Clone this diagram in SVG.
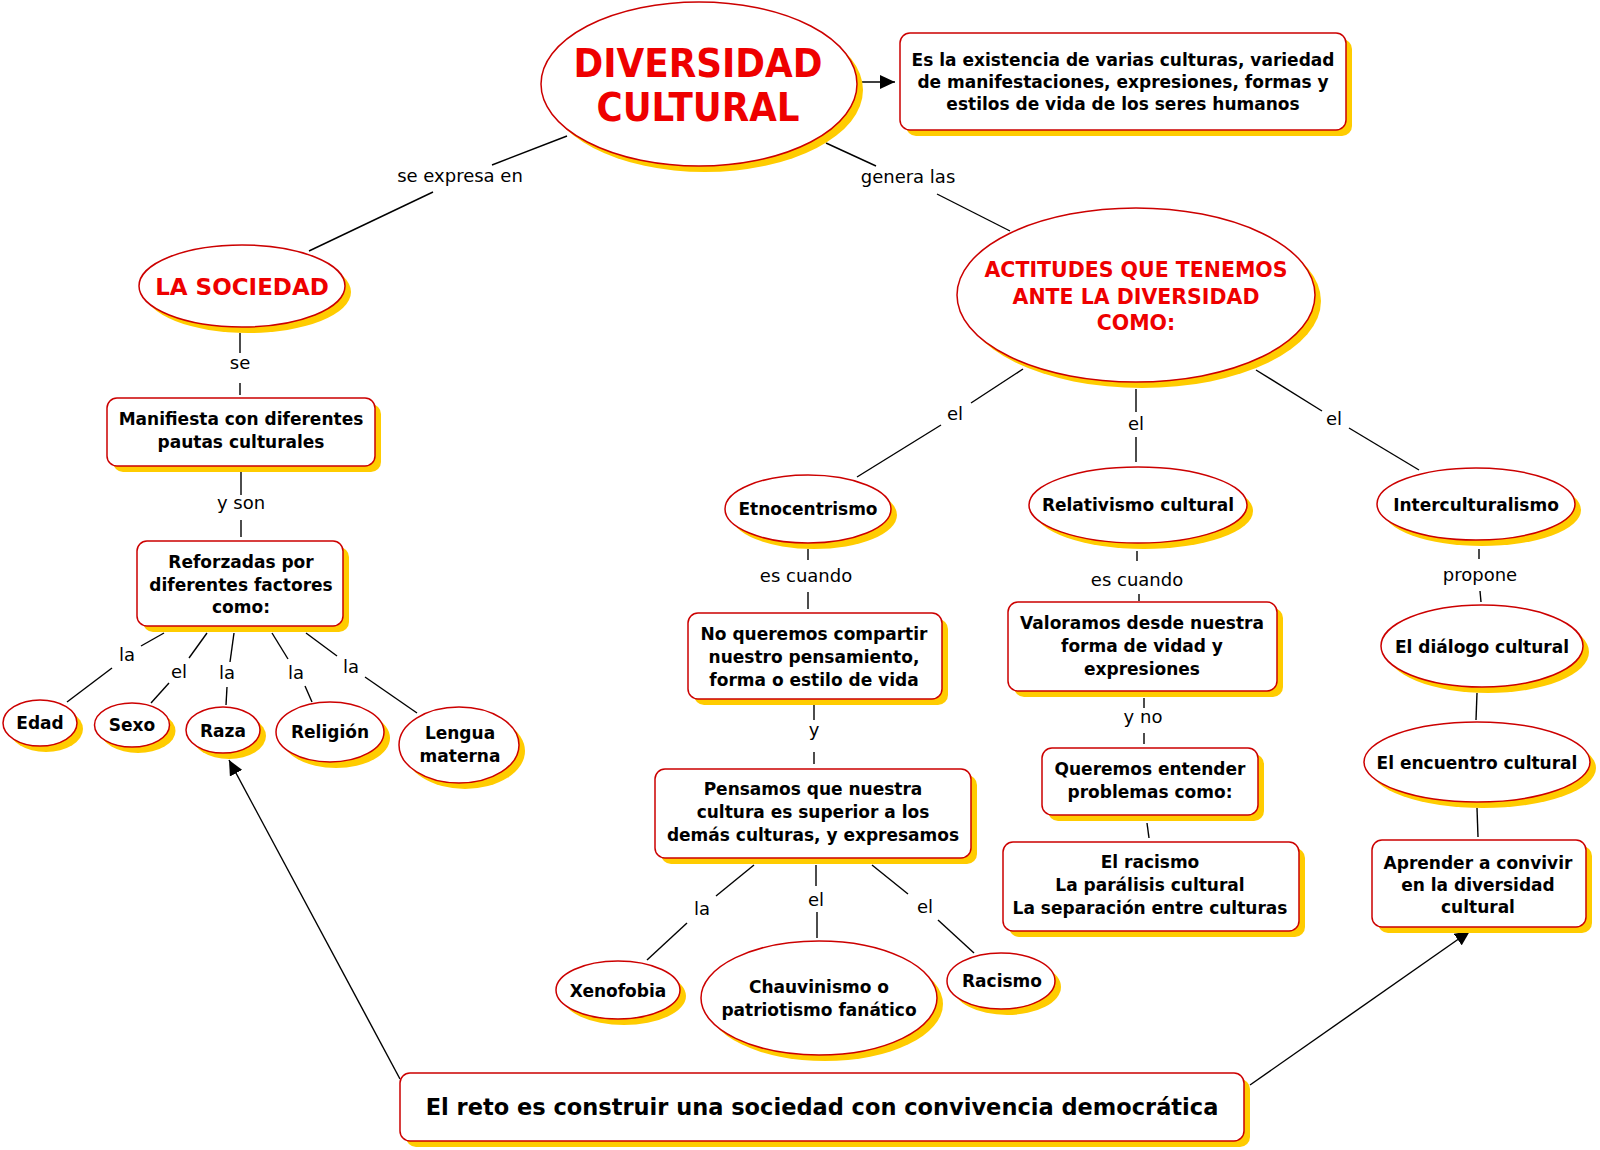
<svg xmlns="http://www.w3.org/2000/svg" width="1600" height="1150" viewBox="0 0 1600 1150">
<style>
.sh{fill:#FFCC00}
.nd{fill:#fff;stroke:#CC0000;stroke-width:1.5}
.t{font-family:"DejaVu Sans",Verdana,sans-serif;font-weight:bold;font-size:17px;text-anchor:middle;fill:#000}
.r{fill:#EE0000}
.big{font-size:39px}
.mid{font-size:23px}
.act{font-size:20.5px}
.reto{font-size:22.5px}
.lb{font-family:"DejaVu Sans",Verdana,sans-serif;font-size:18px;text-anchor:middle;fill:#000}
.cn line{stroke:#000;stroke-width:1.4}
</style>
<defs>
<marker id="ah" markerUnits="userSpaceOnUse" markerWidth="16" markerHeight="14" refX="15" refY="7" orient="auto">
<path d="M0,0 L15,7 L0,14 z" fill="#000"/>
</marker>
</defs>
<rect width="1600" height="1150" fill="#fff"/>

<g id="connectors" class="cn">
<line x1="567" y1="136" x2="492" y2="165"/><line x1="433" y1="192" x2="309" y2="251"/>
<line x1="826" y1="143" x2="876" y2="166"/><line x1="937" y1="194" x2="1010" y2="231"/>
<line x1="240" y1="333" x2="240" y2="353"/><line x1="240" y1="383" x2="240" y2="395"/>
<line x1="241" y1="472" x2="241" y2="495"/><line x1="241" y1="520" x2="241" y2="537"/>
<line x1="164" y1="633" x2="141" y2="646"/><line x1="112" y1="668" x2="67" y2="702"/>
<line x1="207" y1="633" x2="189" y2="658"/><line x1="169" y1="683" x2="151" y2="703"/>
<line x1="234" y1="633" x2="230" y2="662"/><line x1="227" y1="687" x2="226" y2="705"/>
<line x1="272" y1="633" x2="288" y2="659"/><line x1="305" y1="686" x2="312" y2="702"/>
<line x1="306" y1="633" x2="337" y2="656"/><line x1="365" y1="677" x2="417" y2="713"/>
<line x1="1023" y1="369" x2="971" y2="403"/><line x1="941" y1="425" x2="857" y2="477"/>
<line x1="1136" y1="389" x2="1136" y2="412"/><line x1="1136" y1="437" x2="1136" y2="462"/>
<line x1="1256" y1="370" x2="1322" y2="411"/><line x1="1349" y1="428" x2="1419" y2="470"/>
<line x1="808" y1="549" x2="808" y2="560"/><line x1="808" y1="592" x2="808" y2="609"/>
<line x1="814" y1="705" x2="814" y2="720"/><line x1="814" y1="752" x2="814" y2="764"/>
<line x1="754" y1="865" x2="716" y2="896"/><line x1="687" y1="923" x2="647" y2="960"/>
<line x1="816" y1="865" x2="816" y2="886"/><line x1="817" y1="912" x2="817" y2="938"/>
<line x1="872" y1="865" x2="908" y2="894"/><line x1="938" y1="920" x2="974" y2="953"/>
<line x1="1137" y1="551" x2="1137" y2="561"/><line x1="1139" y1="594" x2="1139" y2="601"/>
<line x1="1144" y1="698" x2="1144" y2="708"/><line x1="1144" y1="733" x2="1144" y2="744"/>
<line x1="1147" y1="823" x2="1149" y2="838"/>
<line x1="1479" y1="549" x2="1479" y2="559"/><line x1="1480" y1="591" x2="1481" y2="602"/>
<line x1="1477" y1="693" x2="1476" y2="720"/>
<line x1="1477" y1="808" x2="1478" y2="837"/>
<line x1="859" y1="82" x2="895" y2="82" marker-end="url(#ah)"/>
<line x1="400" y1="1079" x2="229" y2="760" marker-end="url(#ah)"/>
<line x1="1250" y1="1085" x2="1470" y2="931" marker-end="url(#ah)"/>
</g>

<g id="labels" class="lb">
<text x="460" y="182">se expresa en</text>
<text x="908" y="183">genera las</text>
<text x="240" y="369">se</text>
<text x="241" y="509">y son</text>
<text x="127" y="661">la</text>
<text x="179" y="678">el</text>
<text x="227" y="679">la</text>
<text x="296" y="679">la</text>
<text x="351" y="673">la</text>
<text x="955" y="420">el</text>
<text x="1136" y="430">el</text>
<text x="1334" y="425">el</text>
<text x="806" y="582">es cuando</text>
<text x="814" y="736">y</text>
<text x="702" y="915">la</text>
<text x="816" y="906">el</text>
<text x="925" y="913">el</text>
<text x="1137" y="586">es cuando</text>
<text x="1143" y="723">y no</text>
<text x="1480" y="581">propone</text>
</g>

<g id="diversidad">
<ellipse class="sh" cx="705" cy="90" rx="158" ry="82"/>
<ellipse class="nd" cx="699" cy="84" rx="158" ry="82"/>
<text class="t r big" x="698" y="77" textLength="249" lengthAdjust="spacingAndGlyphs">DIVERSIDAD</text>
<text class="t r big" x="698" y="121" textLength="203" lengthAdjust="spacingAndGlyphs">CULTURAL</text>
</g>

<g id="definicion">
<rect class="sh" x="906" y="39" width="446" height="97" rx="10"/>
<rect class="nd" x="900" y="33" width="446" height="97" rx="10"/>
<text class="t" x="1123" y="66">Es la existencia de varias culturas, variedad</text>
<text class="t" x="1123" y="88">de manifestaciones, expresiones, formas y</text>
<text class="t" x="1123" y="110">estilos de vida de los seres humanos</text>
</g>

<g id="sociedad">
<ellipse class="sh" cx="248" cy="292" rx="103" ry="41"/>
<ellipse class="nd" cx="242" cy="286" rx="103" ry="41"/>
<text class="t r mid" x="242" y="295">LA SOCIEDAD</text>
</g>

<g id="actitudes">
<ellipse class="sh" cx="1142" cy="301" rx="179" ry="87"/>
<ellipse class="nd" cx="1136" cy="295" rx="179" ry="87"/>
<text class="t r act" x="1136" y="277">ACTITUDES QUE TENEMOS</text>
<text class="t r act" x="1136" y="303.5">ANTE LA DIVERSIDAD</text>
<text class="t r act" x="1136" y="330">COMO:</text>
</g>

<g id="manifiesta">
<rect class="sh" x="113" y="404" width="268" height="68" rx="10"/>
<rect class="nd" x="107" y="398" width="268" height="68" rx="10"/>
<text class="t" x="241" y="425">Manifiesta con diferentes</text>
<text class="t" x="241" y="448">pautas culturales</text>
</g>

<g id="reforzadas">
<rect class="sh" x="143" y="547" width="206" height="85" rx="10"/>
<rect class="nd" x="137" y="541" width="206" height="85" rx="10"/>
<text class="t" x="241" y="568">Reforzadas por</text>
<text class="t" x="241" y="591">diferentes factores</text>
<text class="t" x="241" y="613">como:</text>
</g>

<g id="edad">
<ellipse class="sh" cx="46" cy="729" rx="37" ry="23"/>
<ellipse class="nd" cx="40" cy="723" rx="37" ry="23"/>
<text class="t" x="40" y="729">Edad</text>
</g>
<g id="sexo">
<ellipse class="sh" cx="138" cy="731" rx="37.5" ry="22"/>
<ellipse class="nd" cx="132" cy="725" rx="37.5" ry="22"/>
<text class="t" x="132" y="731">Sexo</text>
</g>
<g id="raza">
<ellipse class="sh" cx="229" cy="736" rx="37" ry="23"/>
<ellipse class="nd" cx="223" cy="730" rx="37" ry="23"/>
<text class="t" x="223" y="737">Raza</text>
</g>
<g id="religion">
<ellipse class="sh" cx="336" cy="738" rx="54" ry="30"/>
<ellipse class="nd" cx="330" cy="732" rx="54" ry="30"/>
<text class="t" x="330" y="738">Religión</text>
</g>
<g id="lengua">
<ellipse class="sh" cx="465" cy="751" rx="60" ry="38"/>
<ellipse class="nd" cx="459" cy="745" rx="60" ry="38"/>
<text class="t" x="460" y="739">Lengua</text>
<text class="t" x="460" y="762">materna</text>
</g>

<g id="etnocentrismo">
<ellipse class="sh" cx="814" cy="515" rx="83" ry="34"/>
<ellipse class="nd" cx="808" cy="509" rx="83" ry="34"/>
<text class="t" x="808" y="515">Etnocentrismo</text>
</g>
<g id="relativismo">
<ellipse class="sh" cx="1144" cy="511" rx="109" ry="38"/>
<ellipse class="nd" cx="1138" cy="505" rx="109" ry="38"/>
<text class="t" x="1138" y="511">Relativismo cultural</text>
</g>
<g id="interculturalismo">
<ellipse class="sh" cx="1482" cy="510" rx="99" ry="36"/>
<ellipse class="nd" cx="1476" cy="504" rx="99" ry="36"/>
<text class="t" x="1476" y="511">Interculturalismo</text>
</g>

<g id="noqueremos">
<rect class="sh" x="694" y="619" width="254" height="86" rx="10"/>
<rect class="nd" x="688" y="613" width="254" height="86" rx="10"/>
<text class="t" x="814" y="640">No queremos compartir</text>
<text class="t" x="814" y="663">nuestro pensamiento,</text>
<text class="t" x="814" y="686">forma o estilo de vida</text>
</g>
<g id="pensamos">
<rect class="sh" x="661" y="775" width="316" height="89" rx="10"/>
<rect class="nd" x="655" y="769" width="316" height="89" rx="10"/>
<text class="t" x="813" y="795">Pensamos que nuestra</text>
<text class="t" x="813" y="818">cultura es superior a los</text>
<text class="t" x="813" y="841">demás culturas, y expresamos</text>
</g>
<g id="xenofobia">
<ellipse class="sh" cx="624" cy="996" rx="62" ry="29"/>
<ellipse class="nd" cx="618" cy="990" rx="62" ry="29"/>
<text class="t" x="618" y="997">Xenofobia</text>
</g>
<g id="chauvinismo">
<ellipse class="sh" cx="825" cy="1004" rx="118" ry="57"/>
<ellipse class="nd" cx="819" cy="998" rx="118" ry="57"/>
<text class="t" x="819" y="993">Chauvinismo o</text>
<text class="t" x="819" y="1016">patriotismo fanático</text>
</g>
<g id="racismo">
<ellipse class="sh" cx="1007" cy="987" rx="54" ry="28"/>
<ellipse class="nd" cx="1001" cy="981" rx="54" ry="28"/>
<text class="t" x="1002" y="987">Racismo</text>
</g>

<g id="valoramos">
<rect class="sh" x="1014" y="608" width="269" height="89" rx="10"/>
<rect class="nd" x="1008" y="602" width="269" height="89" rx="10"/>
<text class="t" x="1142" y="629">Valoramos desde nuestra</text>
<text class="t" x="1142" y="652">forma de vidad y</text>
<text class="t" x="1142" y="675">expresiones</text>
</g>
<g id="queremos">
<rect class="sh" x="1048" y="754" width="216" height="67" rx="10"/>
<rect class="nd" x="1042" y="748" width="216" height="67" rx="10"/>
<text class="t" x="1150" y="775">Queremos entender</text>
<text class="t" x="1150" y="798">problemas como:</text>
</g>
<g id="elracismo">
<rect class="sh" x="1009" y="848" width="296" height="89" rx="10"/>
<rect class="nd" x="1003" y="842" width="296" height="89" rx="10"/>
<text class="t" x="1150" y="868">El racismo</text>
<text class="t" x="1150" y="891">La parálisis cultural</text>
<text class="t" x="1150" y="914">La separación entre culturas</text>
</g>

<g id="dialogo">
<ellipse class="sh" cx="1488" cy="652" rx="101" ry="41"/>
<ellipse class="nd" cx="1482" cy="646" rx="101" ry="41"/>
<text class="t" x="1482" y="653">El diálogo cultural</text>
</g>
<g id="encuentro">
<ellipse class="sh" cx="1483" cy="768" rx="113" ry="40"/>
<ellipse class="nd" cx="1477" cy="762" rx="113" ry="40"/>
<text class="t" x="1477" y="769">El encuentro cultural</text>
</g>
<g id="aprender">
<rect class="sh" x="1378" y="846" width="214" height="87" rx="10"/>
<rect class="nd" x="1372" y="840" width="214" height="87" rx="10"/>
<text class="t" x="1478" y="869">Aprender a convivir</text>
<text class="t" x="1478" y="891">en la diversidad</text>
<text class="t" x="1478" y="913">cultural</text>
</g>

<g id="reto">
<rect class="sh" x="406" y="1079" width="844" height="68" rx="10"/>
<rect class="nd" x="400" y="1073" width="844" height="68" rx="10"/>
<text class="t reto" x="822" y="1115">El reto es construir una sociedad con convivencia democrática</text>
</g>
</svg>
